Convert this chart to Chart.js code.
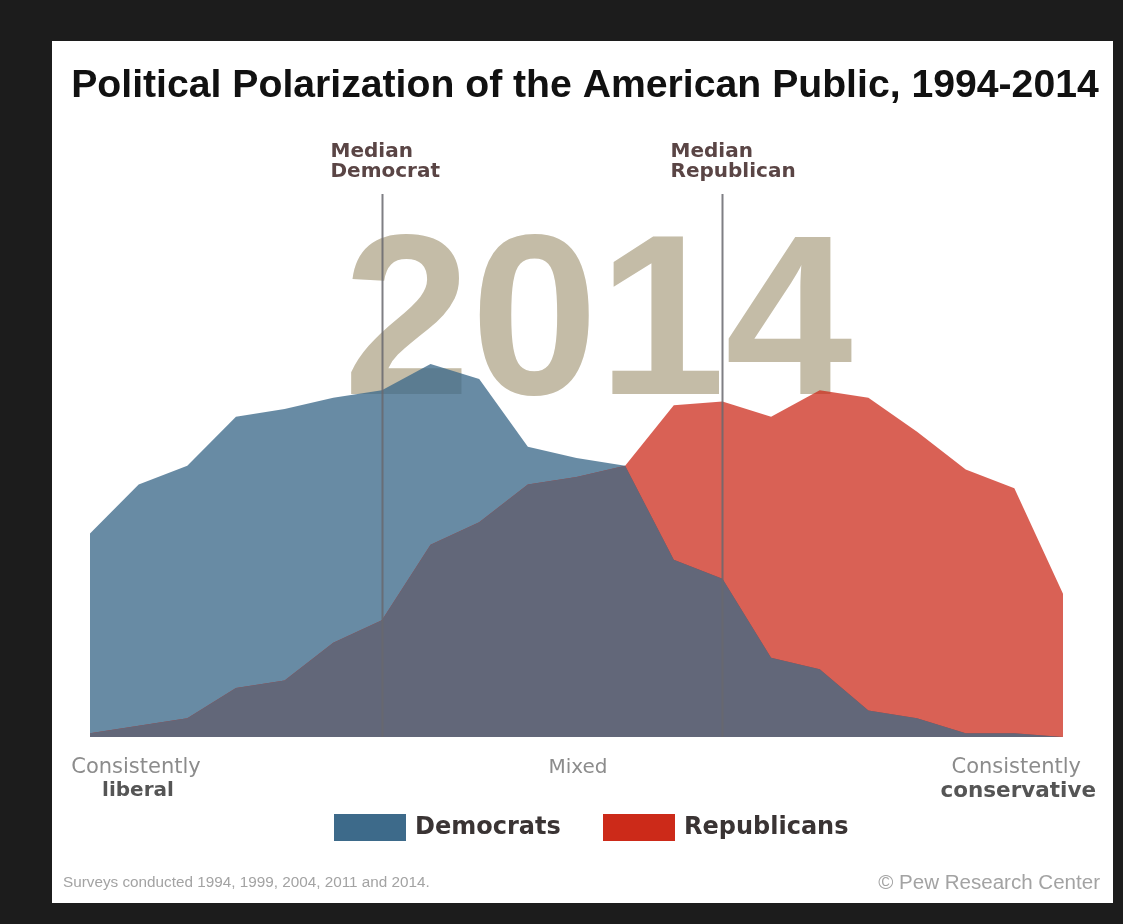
<!DOCTYPE html>
<html>
<head>
<meta charset="utf-8">
<title>Political Polarization of the American Public, 1994-2014</title>
<script src="https://cdn.jsdelivr.net/npm/chart.js@4.4.1/dist/chart.umd.min.js"></script>
<style>
  html, body { margin: 0; padding: 0; background: #1c1c1c; }
  #wrap { width: 1123px; height: 924px; }
</style>
</head>
<body>
<div id="wrap"><canvas id="chart" width="1123" height="924"></canvas></div>
<script>
// Ideological consistency scale: -10 = consistently liberal, +10 = consistently conservative
const scalePoints = [-10, -9, -8, -7, -6, -5, -4, -3, -2, -1, 0, 1, 2, 3, 4, 5, 6, 7, 8, 9, 10];

const democrats   = [5.4, 6.7, 7.2, 8.5, 8.7, 9.0, 9.2, 9.9, 9.5, 7.7, 7.4, 7.2, 4.7, 4.2, 2.1, 1.8, 0.7, 0.5, 0.1, 0.1, 0.0];
const republicans = [0.1, 0.3, 0.5, 1.3, 1.5, 2.5, 3.1, 5.1, 5.7, 6.7, 6.9, 7.2, 8.8, 8.9, 8.5, 9.2, 9.0, 8.1, 7.1, 6.6, 3.8];
// Where the two distributions overlap (dark band)
const overlap     = [0.1, 0.3, 0.5, 1.3, 1.5, 2.5, 3.1, 5.1, 5.7, 6.7, 6.9, 7.2, 4.7, 4.2, 2.1, 1.8, 0.7, 0.5, 0.1, 0.1, 0.0];

const medianNames  = ['Democrat', 'Republican'];
const medianPoints = [-4, 3];

const yearLabel = '2014';

const COLORS = {
  dem: '#3d6a8a',
  rep: '#cc2a19',
  demFill: 'rgba(61, 106, 138, 0.78)',
  repFill: 'rgba(204, 42, 25, 0.74)',
  both: '#626779',
  year: '#c4bca7',
  median: 'rgba(105, 105, 110, 0.85)',
  medianText: '#5a4545',
  muted: '#8c8c8c',
  strong: '#555555',
  footer: '#a3a3a3'
};

function text(ctx, str, x, y, font, color, align, baseline) {
  ctx.font = font;
  ctx.fillStyle = color;
  ctx.textAlign = align || 'left';
  ctx.textBaseline = baseline || 'middle';
  ctx.fillText(str, x, y);
}

// fit a string to a given width (keeps the look close to the original raster)
function fitText(ctx, str, x, y, width, weight, family, color, align, baseline) {
  ctx.font = `${weight} 100px ${family}`;
  const size = 100 * width / ctx.measureText(str).width;
  text(ctx, str, x, y, `${weight} ${size.toFixed(2)}px ${family}`, color, align, baseline);
}

const framePlugin = {
  id: 'frame',
  beforeDraw(chart) {
    const ctx = chart.ctx;
    ctx.save();
    ctx.fillStyle = '#1c1c1c';
    ctx.fillRect(0, 0, chart.width, chart.height);
    ctx.fillStyle = '#ffffff';
    ctx.fillRect(52, 41, 1061, 862);
    ctx.restore();
  },
  beforeDatasetsDraw(chart) {
    // big year watermark sits behind the areas
    const ctx = chart.ctx;
    ctx.save();
    ctx.font = 'bold 229px "Liberation Sans", Arial, sans-serif';
    ctx.fillStyle = COLORS.year;
    ctx.textAlign = 'center';
    ctx.textBaseline = 'alphabetic';
    ctx.fillText(yearLabel, 598, 394);
    ctx.restore();
  },
  afterDatasetsDraw(chart) {
    const ctx = chart.ctx;
    const xs = chart.scales.x;
    const area = chart.chartArea;
    ctx.save();

    // median markers
    medianPoints.forEach((pt, i) => {
      const px = Math.round(xs.getPixelForValue(scalePoints.indexOf(pt))) + 0.5;
      ctx.strokeStyle = COLORS.median;
      ctx.lineWidth = 2;
      ctx.beginPath();
      ctx.moveTo(px, 194);
      ctx.lineTo(px, area.bottom);
      ctx.stroke();
      const left = px - 52;
      text(ctx, 'Median', left, 152, 'bold 20px "DejaVu Sans", sans-serif', COLORS.medianText);
      text(ctx, medianNames[i], left, 172, 'bold 20px "DejaVu Sans", sans-serif', COLORS.medianText);
    });

    // title
    fitText(ctx, 'Political Polarization of the American Public, 1994-2014', 585, 97, 1028,
      'bold', '"Liberation Sans", Arial, sans-serif', '#111111', 'center', 'alphabetic');

    // scale end labels
    const lab = '"DejaVu Sans", sans-serif';
    text(ctx, 'Consistently', 136, 768, `21px ${lab}`, COLORS.muted, 'center');
    text(ctx, 'liberal', 138, 791, `bold 20px ${lab}`, COLORS.strong, 'center');
    text(ctx, 'Mixed', 578, 768, `20px ${lab}`, COLORS.muted, 'center');
    text(ctx, 'Consistently', 1081, 768, `21px ${lab}`, COLORS.muted, 'right');
    text(ctx, 'conservative', 1096, 791, `bold 21.5px ${lab}`, COLORS.strong, 'right');

    // legend
    ctx.fillStyle = COLORS.dem;
    ctx.fillRect(334, 814, 72, 27);
    text(ctx, 'Democrats', 415, 828, `bold 24px ${lab}`, '#3a3434');
    ctx.fillStyle = COLORS.rep;
    ctx.fillRect(603, 814, 72, 27);
    text(ctx, 'Republicans', 684, 828, `bold 24px ${lab}`, '#3a3434');

    // footer
    fitText(ctx, 'Surveys conducted 1994, 1999, 2004, 2011 and 2014.', 63, 883, 367,
      'normal', '"Liberation Sans", Arial, sans-serif', COLORS.footer, 'left');
    fitText(ctx, '\u00A9 Pew Research Center', 1100, 883, 222,
      'normal', '"Liberation Sans", Arial, sans-serif', COLORS.footer, 'right');

    ctx.restore();
  }
};

const areaStyle = { borderWidth: 0, pointRadius: 0, pointHoverRadius: 0, tension: 0, fill: 'origin' };

new Chart(document.getElementById('chart'), {
  type: 'line',
  data: {
    labels: scalePoints,
    datasets: [
      // first dataset is painted last, so the dark overlap ends up on top
      { ...areaStyle, label: 'Both', data: overlap, backgroundColor: COLORS.both, borderColor: COLORS.both },
      { ...areaStyle, label: 'Republicans', data: republicans, backgroundColor: COLORS.repFill, borderColor: COLORS.repFill },
      { ...areaStyle, label: 'Democrats', data: democrats, backgroundColor: COLORS.demFill, borderColor: COLORS.demFill }
    ]
  },
  options: {
    responsive: false,
    animation: false,
    layout: { padding: { left: 90, right: 60, top: 134, bottom: 187 } },
    scales: {
      x: { display: false },
      y: { display: false, min: 0, max: 16 }
    },
    plugins: {
      legend: { display: false },
      tooltip: { enabled: false }
    }
  },
  plugins: [framePlugin]
});
</script>
</body>
</html>
